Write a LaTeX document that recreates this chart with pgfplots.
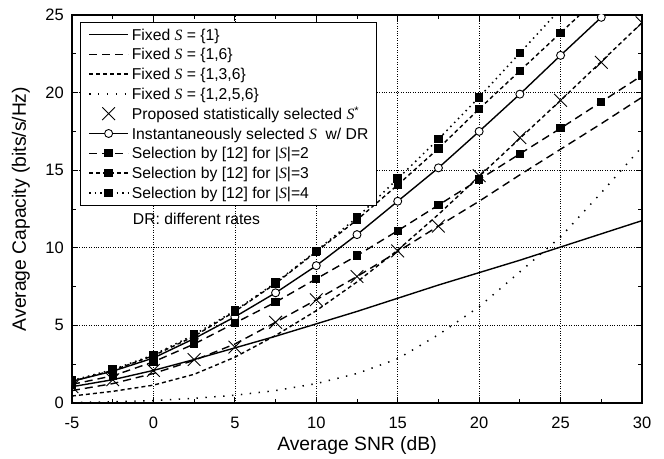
\documentclass[border=0pt]{standalone}
\usepackage{fontspec}
\setmainfont{Liberation Sans}
\newfontfamily\tms{Liberation Serif}
\usepackage{pgfplots}
\pgfplotsset{compat=1.18}
\newcommand{\Ss}{{\tms\itshape S}}

\begin{document}
\begin{tikzpicture}
  \begin{axis}[
    at={(0pt,0pt)}, anchor=south west,
    width=570pt, height=388pt, scale only axis,
    xmin=-5, xmax=30, ymin=0, ymax=25,
    xtick={-5,0,...,30}, xticklabels={-5,0,5,10,15,20,25,30},
    ytick={0,5,...,25}, yticklabels={0,5,10,15,20,25},
    minor tick num=1,
    tick align=inside,
    major tick length=6pt, minor tick length=4pt,
    every tick/.style={black, line width=0.9pt},
    axis line style={line width=1.6pt},
    grid=major,
    grid style={dotted, black, line width=0.7pt},
    ticklabel style={font=\fontsize{16.5}{18}\selectfont},
    xticklabel style={anchor=base, yshift=-25pt, inner sep=0pt},
    yticklabel style={anchor=east, xshift=-8pt, inner sep=0pt},
    xlabel={Average SNR (dB)},
    ylabel={Average Capacity (bits/s/Hz)},
    every axis x label/.style={at={(axis description cs:0.5,-0.1229)}, anchor=base,
      font=\fontsize{19.3}{22}\selectfont},
    every axis y label/.style={at={(axis description cs:-0.0895,0.5)}, rotate=90, anchor=center,
      font=\fontsize{19.3}{22}\selectfont},
    clip marker paths=true,
    legend cell align=left,
    legend style={
      at={(0.014,0.982)}, anchor=north west,
      font=\fontsize{15.7}{18}\selectfont,
      draw=black, line width=0.8pt,
      inner xsep=8pt, inner ysep=2.2pt, row sep=0pt,
      nodes={inner sep=0pt, text height=15.5pt, text depth=4.3pt},
      /tikz/every odd column/.append style={column sep=3pt}
    },
    legend image code/.code={\draw[mark repeat=2,mark phase=2,#1] plot coordinates {(0pt,0pt) (19.5pt,0pt) (39pt,0pt)};},
  ]

  % Fixed S = {1}
  \addplot[black, line width=1.4pt] coordinates {
    (-5,1.05) (-2.5,1.5) (0,2.1) (2.5,2.8) (5,3.55) (7.5,4.3) (10,5.1) (12.5,5.9)
    (15,6.75) (17.5,7.6) (20,8.4) (22.5,9.2) (25,10.05) (27.5,10.9) (30,11.75)
  };
  \addlegendentry{Fixed \Ss\ = \{1\}}

  % Fixed S = {1,6}
  \addplot[black, line width=1.4pt, dash pattern=on 8pt off 5pt] coordinates {
    (-5,0.8) (-2.5,1.25) (0,1.9) (2.5,2.75) (5,3.8) (7.5,5.2) (10,6.65) (12.5,8.15)
    (15,9.75) (17.5,11.4) (20,13.0) (22.5,14.7) (25,16.35) (27.5,18.0) (30,19.7)
  };
  \addlegendentry{Fixed \Ss\ = \{1,6\}}

  % Fixed S = {1,3,6}
  \addplot[black, line width=1.4pt, dash pattern=on 4pt off 3pt] coordinates {
    (-5,0.45) (-2.5,0.75) (0,1.15) (2.5,1.85) (5,2.95) (7.5,4.35) (10,5.95) (12.5,7.8)
    (15,9.85) (17.5,12.15) (20,14.6) (22.5,17.05) (25,19.5) (27.5,22.0) (30,24.5)
  };
  \addlegendentry{Fixed \Ss\ = \{1,3,6\}}

  % Fixed S = {1,2,5,6}
  \addplot[black, line width=1.5pt, dash pattern=on 1.4pt off 7.5pt] coordinates {
    (-5,0.03) (-2.5,0.08) (0,0.15) (2.5,0.3) (5,0.5) (7.5,0.8) (10,1.25) (12.5,1.9)
    (15,2.85) (17.5,4.4) (20,6.2) (22.5,8.45) (25,10.7) (27.5,13.55) (30,16.5)
  };
  \addlegendentry{Fixed \Ss\ = \{1,2,5,6\}}

  % proposed statistical selection
  \addplot[black, only marks, mark=x, mark size=9pt, mark options={line width=0.9pt}] coordinates {
    (-5,1.05) (-2.5,1.5) (0,2.1) (2.5,2.8) (5,3.6) (7.5,5.2) (10,6.65) (12.5,8.15)
    (15,9.8) (17.5,11.4) (20,14.65) (22.5,17.1) (25,19.5) (27.5,21.95) (30,24.5)
  };
  \addlegendentry{Proposed statistically selected \Ss\textsuperscript{*}}

  % instantaneous selection with DR
  \addplot[black, line width=1.4pt, mark=*, mark size=4pt, mark options={fill=white, solid, line width=0.9pt}] coordinates {
    (-5,1.4) (-2.5,2.05) (0,2.9) (2.5,4.15) (5,5.55) (7.5,7.1) (10,8.85) (12.5,10.85)
    (15,13.0) (17.5,15.15) (20,17.5) (22.5,19.9) (25,22.4) (27.5,24.85) (30,27.3)
  };
  \addlegendentry{Instantaneously selected \Ss\ \ w/ DR}

  % [12], |S|=2
  \addplot[black, line width=1.4pt, dash pattern=on 8pt off 5pt, mark=square*, mark size=3.5pt, mark options={solid}] coordinates {
    (-5,1.2) (-2.5,1.75) (0,2.65) (2.5,3.8) (5,5.15) (7.5,6.5) (10,8.0) (12.5,9.5)
    (15,11.1) (17.5,12.75) (20,14.4) (22.5,16.05) (25,17.7) (27.5,19.4) (30,21.1)
  };
  \addlegendentry{Selection by [12] for |\Ss|=2}

  % [12], |S|=3
  \addplot[black, line width=1.4pt, dash pattern=on 4pt off 3pt, mark=square*, mark size=3.5pt, mark options={solid}] coordinates {
    (-5,1.4) (-2.5,2.1) (0,3.05) (2.5,4.3) (5,5.9) (7.5,7.7) (10,9.75) (12.5,11.8)
    (15,14.05) (17.5,16.4) (20,18.95) (22.5,21.4) (25,23.85) (27.5,26.3) (30,28.8)
  };
  \addlegendentry{Selection by [12] for |\Ss|=3}

  % [12], |S|=4
  \addplot[black, line width=1.5pt, dash pattern=on 1.5pt off 4pt, mark=square*, mark size=3.5pt, mark options={solid}] coordinates {
    (-5,1.45) (-2.5,2.15) (0,3.1) (2.5,4.4) (5,5.95) (7.5,7.75) (10,9.8) (12.5,11.95)
    (15,14.45) (17.5,17.0) (20,19.7) (22.5,22.55) (25,25.4) (27.5,28.3) (30,31.2)
  };
  \addlegendentry{Selection by [12] for |\Ss|=4}

  \node[anchor=west, inner sep=0pt, font=\fontsize{15.7}{18}\selectfont] at (axis cs:-1.27,11.87) {DR: different rates};
  \end{axis}
  \path (-72pt,-55pt) rectangle (592pt,403pt);
\end{tikzpicture}
\end{document}
